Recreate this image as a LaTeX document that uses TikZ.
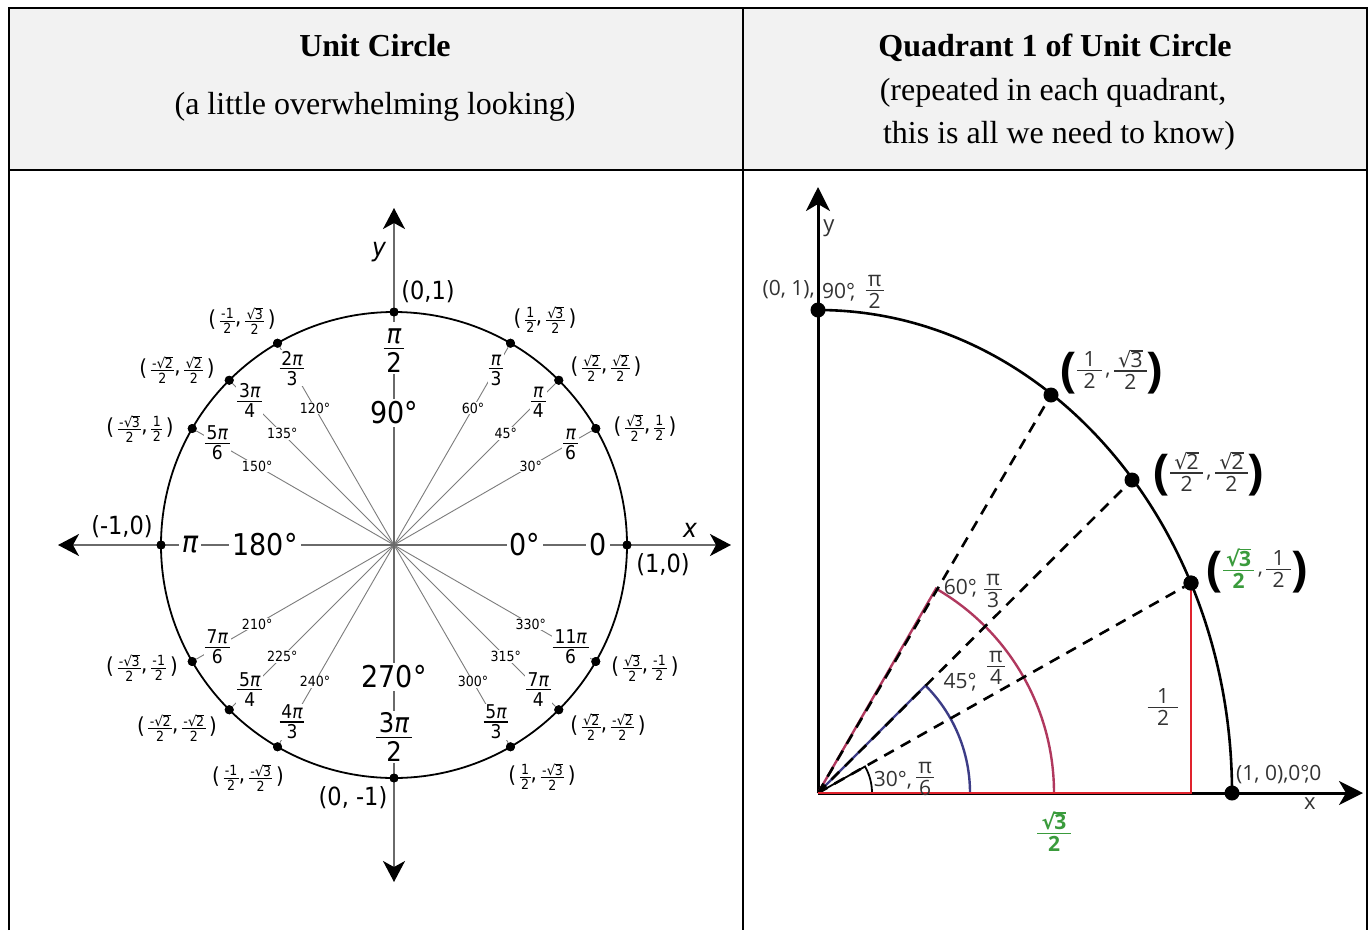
\documentclass[tikz,border=0pt]{standalone}
\usepackage{fontspec}
\usetikzlibrary{arrows.meta}
\setmainfont{Liberation Serif}
\newfontfamily\cfont[FakeStretch=0.9]{DejaVu Sans}
\newfontfamily\qfont{Open Sans}
\newfontfamily\djf{DejaVu Sans}
\definecolor{hdrgray}{HTML}{F2F2F2}
\definecolor{axgray}{HTML}{6A6A6A}
\definecolor{radgray}{HTML}{7C7C7C}
\definecolor{qgray}{HTML}{333333}
\definecolor{redR}{HTML}{E0232D}
\definecolor{crimR}{HTML}{B0385E}
\definecolor{navyR}{HTML}{3C3C86}
\definecolor{greenR}{HTML}{3A9B3C}
\newcommand\fr[3][.1em]{\ensuremath{\vcenter{\offinterlineskip\halign{\hfil\kern#1##\kern#1\hfil\cr\vrule height .74em depth .02em width 0pt\relax#2\cr\noalign{\kern.12em\hrule height .065em\kern.1em}\vrule height .74em depth 0em width 0pt\relax#3\cr}}}}
\newcommand\rad[1]{\begingroup\setbox0\hbox{\djf √}\setbox2\hbox{#1}\dimen0=\ht0 \advance\dimen0 by -\ht2 \advance\dimen0 by -.06em \copy0\kern-.05em\vbox{\hrule height .06em\kern\dimen0\box2}\endgroup}
\newcommand\mypi{{\itshape π}}
\newcommand\cp[4]{\raisebox{-1.5pt}{(}\,{\fontsize{14}{14}\selectfont\fr{#1}{#2}},\,{\fontsize{14}{14}\selectfont\fr{#3}{#4}}\,\raisebox{-1.5pt}{)}}
\newcommand\bp[1]{\raisebox{-11pt}{\fontsize{48}{48}\selectfont\bfseries\color{black}#1}}
\begin{document}
\begin{tikzpicture}[x=1pt,y=-1pt,
  tbl/.style={line width=2pt,black},
  hb/.style={font=\fontsize{32}{34}\selectfont\bfseries,inner sep=0pt},
  ht/.style={font=\fontsize{32}{34}\selectfont,inner sep=0pt},
  axL/.style={line width=2pt,draw=axgray},
  tipL/.style={-{Stealth[black,length=21pt,width=22pt,inset=6pt]}},
  radial/.style={line width=0.9pt,draw=radgray},
  circL/.style={line width=1.8pt},
  dotL/.style={circle,fill=black,inner sep=0pt,minimum size=9pt},
  degL/.style={font=\cfont\fontsize{14}{14}\selectfont,fill=white,inner sep=1pt},
  frL/.style={font=\cfont\fontsize{19}{19}\selectfont,fill=white,inner sep=1pt},
  bigL/.style={font=\cfont\fontsize{30}{30}\selectfont,fill=white,inner sep=3pt},
  bfL/.style={font=\cfont\fontsize{27}{27}\selectfont,fill=white,inner sep=2pt},
  coordL/.style={font=\cfont\fontsize{22}{22}\selectfont,inner sep=0pt},
  ptL/.style={font=\cfont\fontsize{25}{25}\selectfont,inner sep=0pt},
  axR/.style={line width=3pt,black},
  tipR/.style={-{Stealth[black,length=24pt,width=24pt,inset=7pt]}},
  arcR/.style={line width=2.6pt,black},
  dashR/.style={line width=2.6pt,black,dash pattern=on 11pt off 8pt},
  dotR/.style={circle,fill=black,inner sep=0pt,minimum size=15pt},
  qt/.style={font=\qfont\fontsize{21}{21}\selectfont,text=qgray,inner sep=0pt},
  qbig/.style={font=\qfont\fontsize{21}{21}\selectfont,text=qgray,inner sep=0pt}
]
\useasboundingbox (0,0) rectangle (1369,930);
\fill[white] (0,0) rectangle (1369,930);
% ---------- table ----------
\fill[hdrgray] (9,8) rectangle (1367,170);
\draw[tbl] (9,930) -- (9,8) -- (1367,8) -- (1367,930);
\draw[tbl] (9,170) -- (1367,170);
\draw[tbl] (743,8) -- (743,930);
\node[hb] (h1) at (375,46) {Unit Circle};
\node[ht] (h2) at (375,107) {(a little overwhelming looking)};
\node[hb] (h3) at (1055,48) {Quadrant 1 of Unit Circle};
\node[ht] (h4) at (1053,93) {(repeated in each quadrant,};
\node[ht] (h5) at (1059,136) {this is all we need to know)};
% ---------- left: unit circle ----------
\coordinate (C) at (394,545);
\coordinate (xl) at (58,545);
\coordinate (xr) at (731,545);
\coordinate (yt) at (394,208);
\coordinate (yb) at (394,882);
\foreach \a in {0,30,45,60,90,120,135,150,180,210,225,240,270,300,315,330}
  \node[dotL] (dl\a) at ([shift={(-\a:233)}]C) {};
\foreach \a in {30,45,60,120,135,150,210,225,240,300,315,330}
  \draw[radial] (C) -- (dl\a);
\draw[axL,tipL] (C) -- (xr);
\draw[axL,tipL] (C) -- (xl);
\draw[axL,tipL] (C) -- (yt);
\draw[axL,tipL] (C) -- (yb);
\foreach \a in {30,45,60,120,135,150,210,225,240,300,315,330}
  \node[degL] (dg\a) at ([shift={(-\a:158)}]C) {\a°};
\foreach \a/\n/\d in {30/\mypi/6,45/\mypi/4,60/\mypi/3,120/2\mypi/3,135/3\mypi/4,150/5\mypi/6,210/7\mypi/6,225/5\mypi/4,240/4\mypi/3,300/5\mypi/3,315/7\mypi/4,330/11\mypi/6}
  \node[frL] (fl\a) at ([shift={(-\a:204)}]C) {\fr{\n}{\d}};
\node[bigL] (lpi) at (190,545) {\mypi};
\node[bigL] (l180) at (265,545) {180°};
\node[bigL] (l0d) at (525,545) {0°};
\node[bigL] (l0) at (598,545) {0};
\node[bigL] (l90) at (394,413) {90°};
\node[bigL] (l270) at (394,677) {270°};
\node[bfL] (lpi2) at (394,348) {\fr{\mypi}{2}};
\node[bfL] (l3pi2) at (394,737) {\fr{3\mypi}{2}};
\draw[circL] (C) circle (233);
\foreach \a in {0,30,45,60,90,120,135,150,180,210,225,240,270,300,315,330}
  \node[dotL] at (dl\a) {};
\node[ptL] (p01) at (428,292) {(0,1)};
\node[ptL] (p10) at (663,565) {(1,0)};
\node[ptL] (pm10) at (122,527) {(-1,0)};
\node[ptL] (p0m1) at (353,798) {(0, -1)};
\node[ptL,font=\cfont\itshape\fontsize{26}{26}\selectfont] (lx) at (690,530) {x};
\node[ptL,font=\cfont\itshape\fontsize{26}{26}\selectfont] (ly) at (379,252) {y};
\node[coordL] (c30) at (645,428) {\cp{\rad{3}}{2}{1}{2}};
\node[coordL] (c45) at (606,368) {\cp{\rad{2}}{2}{\rad{2}}{2}};
\node[coordL] (c60) at (545,320) {\cp{1}{2}{\rad{3}}{2}};
\node[coordL] (c120) at (242,321) {\cp{-1}{2}{\rad{3}}{2}};
\node[coordL] (c135) at (177,370) {\cp{-\rad{2}}{2}{\rad{2}}{2}};
\node[coordL] (c150) at (140,429) {\cp{-\rad{3}}{2}{1}{2}};
\node[coordL] (c210) at (142,668) {\cp{-\rad{3}}{2}{-1}{2}};
\node[coordL] (c225) at (177,728) {\cp{-\rad{2}}{2}{-\rad{2}}{2}};
\node[coordL] (c240) at (248,778) {\cp{-1}{2}{-\rad{3}}{2}};
\node[coordL] (c300) at (542,777) {\cp{1}{2}{-\rad{3}}{2}};
\node[coordL] (c315) at (608,727) {\cp{\rad{2}}{2}{-\rad{2}}{2}};
\node[coordL] (c330) at (645,668) {\cp{\rad{3}}{2}{-1}{2}};
% ---------- right: first quadrant ----------
\coordinate (O) at (818,793);
\coordinate (yR) at (818,187);
\coordinate (xR) at (1363,793);
\coordinate (A0) at (1232,793);
\coordinate (foot) at (1191,793);
\draw[axR,tipR] (O) -- (yR);
\draw[axR,tipR] (O) -- (xR);
\draw[arcR] (A0) arc[start angle=0,end angle=-90,x radius=414,y radius=483];
\node[dotR] (q90) at (818,310) {};
\node[dotR] (q0) at (A0) {};
\node[dotR] (q30) at (1191,583) {};
\node[dotR] (q45) at (1132,480) {};
\node[dotR] (q60) at (1051,395) {};
\draw[line width=2.4pt,navyR] (O) -- ++(-45:152) arc[start angle=-45,end angle=0,radius=152];
\draw[line width=2.4pt,crimR] (O) -- ++(-60:236) arc[start angle=-60,end angle=0,radius=236];
\draw[line width=1.8pt,black] (O) -- ++(-29.4:54) arc[start angle=-29.4,end angle=0,radius=54];
\draw[dashR] (O) -- (q30);
\draw[dashR] (O) -- (q45);
\draw[dashR] (O) -- (q60);
\draw[line width=2.6pt,redR] (O) -- (foot) -- (q30.center);
\node[dotR] at (q30) {};
\node[qt,font=\qfont\fontsize{22}{22}\selectfont] (ry) at (829,228) {y};
\node[qt,font=\qfont\fontsize{22}{22}\selectfont] (rx) at (1310,804) {x};
\node[qt,anchor=east] (r01) at (815,290) {(0, 1),};
\node[qt,anchor=west] (r90) at (822,290) {90°\llap{,}\hspace{.5em}\raisebox{3pt}{\fr{π}{2}}};
\node[qbig] (r60p) at (1112,372) {\bp{(}\fr[.3em]{1}{2}\,,\,\fr[.2em]{\rad{3}}{2}\bp{)}};
\node[qbig] (r45p) at (1209,474) {\bp{(}\fr[.2em]{\rad{2}}{2}\,,\,\fr[.2em]{\rad{2}}{2}\bp{)}};
\node[qbig] (r30p) at (1257,571) {\bp{(}\textcolor{greenR}{\bfseries\fr[.15em]{\rad{3}}{2}}\,,\,\fr[.3em]{1}{2}\bp{)}};
\node[qt] (r60) at (973,589) {60°\llap{,}\hspace{.35em}\fr{π}{3}};
\node[qt] (r45a) at (960,682) {45°\llap{,}};
\node[qt] (r45b) at (996,666) {\fr{π}{4}};
\node[qt] (r30) at (904,777) {30°,\hspace{.2em}\raisebox{4pt}{\fr{π}{6}}};
\node[qt] (rhalf) at (1163,707) {\fr[.45em]{1}{2}};
\node[qt,font=\qfont\bfseries\fontsize{21}{21}\selectfont,text=greenR] (rs3) at (1054,832) {\fr[.2em]{\rad{3}}{2}};
\node[qt,anchor=west] (r0) at (1236,775) {(1, 0),0°\llap{,}0};
\end{tikzpicture}
\end{document}
